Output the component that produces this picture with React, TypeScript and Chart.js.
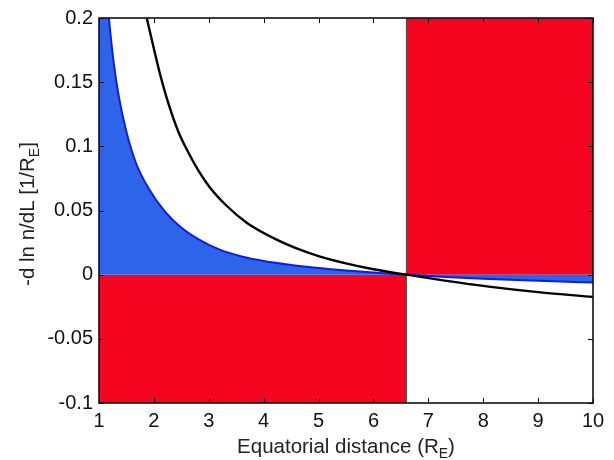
import React, { useEffect, useRef } from "react";
import { Chart, registerables } from "chart.js";

Chart.register(...registerables);

// ---- data ----
const blueX = [1.0, 1.1, 1.18, 1.27, 1.36, 1.49, 1.67, 1.91, 2.21, 2.52, 2.84, 3.2, 3.6, 4.0, 4.5, 5.0, 5.5, 6.0, 6.6, 7.3, 8.1, 9.0, 10.0];
const blueY = [0.29, 0.24, 0.2, 0.1645, 0.139, 0.113, 0.0874, 0.0668, 0.0488, 0.036, 0.027, 0.0195, 0.0142, 0.0107, 0.0076, 0.0052, 0.0033, 0.0017, 0.0, -0.0018, -0.0034, -0.0048, -0.0062];

const blackX = [1.87, 2.0, 2.12, 2.26, 2.44, 2.63, 2.82, 3.02, 3.33, 3.69, 4.18, 4.66, 5.0, 5.5, 6.0, 6.6, 7.3, 8.1, 9.0, 10.0];
const blackY = [0.2, 0.176, 0.155, 0.134, 0.112, 0.095, 0.0805, 0.068, 0.0535, 0.0405, 0.0285, 0.0195, 0.0145, 0.0088, 0.0042, 0.0, -0.0046, -0.0093, -0.0136, -0.0174];

// red regions
const redLowX = [1, 6.6];
const redLowY = [0, -0.1];
const redHighX = [6.6, 10];
const redHighY = [0.2, 0];
const boundaryX = 6.6;

const xTicks = [1, 2, 3, 4, 5, 6, 7, 8, 9, 10];
const xTickLabels = ["1", "2", "3", "4", "5", "6", "7", "8", "9", "10"];
const yTicks = [-0.1, -0.05, 0, 0.05, 0.1, 0.15, 0.2];
const yTickLabels = ["-0.1", "-0.05", "0", "0.05", "0.1", "0.15", "0.2"];

const xTitle = ["Equatorial distance (R", "E", ")"];
const yTitle = ["-d ln n/dL [1/R", "E", "]"];

const FONT = '"Liberation Sans", Arial, Helvetica, sans-serif';

const pts = (xs: number[], ys: number[]) => xs.map((x, i) => ({ x, y: ys[i] }));

const framePlugin = {
  id: "frameTicks",
  afterDatasetsDraw(chart: any) {
    const { ctx, chartArea: a, scales } = chart;
    const xs = scales.x;
    const ys = scales.y;
    ctx.save();
    ctx.strokeStyle = "#000";
    ctx.lineWidth = 1;
    const L = 5;
    ctx.beginPath();
    xTicks.forEach((v) => {
      const px = Math.round(xs.getPixelForValue(v)) + 0.5;
      ctx.moveTo(px, a.bottom);
      ctx.lineTo(px, a.bottom - L);
      ctx.moveTo(px, a.top);
      ctx.lineTo(px, a.top + L);
    });
    yTicks.forEach((v) => {
      const py = Math.round(ys.getPixelForValue(v)) + 0.5;
      ctx.moveTo(a.left, py);
      ctx.lineTo(a.left + L, py);
      ctx.moveTo(a.right, py);
      ctx.lineTo(a.right - L, py);
    });
    ctx.stroke();
    ctx.lineWidth = 1.6;
    ctx.strokeStyle = "#111";
    ctx.strokeRect(a.left, a.top, a.right - a.left, a.bottom - a.top);
    ctx.restore();
  },
  afterDraw(chart: any) {
    const { ctx, chartArea: a } = chart;
    const main = "20.5px " + FONT;
    const sub = "14px " + FONT;
    const drawParts = (parts: string[], cx: number, baseY: number) => {
      ctx.font = main;
      const w1 = ctx.measureText(parts[0]).width;
      const w3 = ctx.measureText(parts[2]).width;
      ctx.font = sub;
      const w2 = ctx.measureText(parts[1]).width;
      let x = cx - (w1 + w2 + w3) / 2;
      ctx.textAlign = "left";
      ctx.textBaseline = "alphabetic";
      ctx.fillStyle = "#222";
      ctx.font = main;
      ctx.fillText(parts[0], x, baseY);
      x += w1;
      ctx.font = sub;
      ctx.fillText(parts[1], x, baseY + 5);
      x += w2;
      ctx.font = main;
      ctx.fillText(parts[2], x, baseY);
    };
    ctx.save();
    drawParts(xTitle, (a.left + a.right) / 2, 453);
    ctx.restore();
    ctx.save();
    ctx.translate(34, 214);
    ctx.rotate(-Math.PI / 2);
    drawParts(yTitle, 0, 0);
    ctx.restore();
  },
};

export default function App() {
  const ref = useRef<HTMLCanvasElement | null>(null);
  useEffect(() => {
    if (!ref.current) return;
    const tickFont = { family: FONT, size: 20 };
    const chart = new Chart(ref.current, {
      type: "line",
      data: {
        datasets: [
          {
            label: "black",
            data: pts(blackX, blackY),
            borderColor: "#000",
            borderWidth: 2.4,
            pointRadius: 0,
            fill: false,
            cubicInterpolationMode: "monotone",
            order: 0,
          },
          {
            label: "blue",
            data: pts(blueX, blueY),
            borderColor: "#0a1ee6",
            backgroundColor: "#2e64ea",
            borderWidth: 2,
            pointRadius: 0,
            fill: "origin",
            cubicInterpolationMode: "monotone",
            order: 1,
          },
          {
            label: "boundary",
            data: [
              { x: boundaryX, y: yTicks[0] },
              { x: boundaryX, y: yTicks[yTicks.length - 1] },
            ],
            borderColor: "#444",
            borderWidth: 1,
            pointRadius: 0,
            fill: false,
            order: 2,
          },
          {
            label: "redLow",
            data: [
              { x: redLowX[0], y: redLowY[0] },
              { x: redLowX[1], y: redLowY[0] },
            ],
            borderWidth: 0,
            borderColor: "rgba(0,0,0,0)",
            backgroundColor: "#f5051f",
            pointRadius: 0,
            fill: { value: redLowY[1] },
            order: 3,
          },
          {
            label: "redHigh",
            data: [
              { x: redHighX[0], y: redHighY[0] },
              { x: redHighX[1], y: redHighY[0] },
            ],
            borderWidth: 0,
            borderColor: "rgba(0,0,0,0)",
            backgroundColor: "#f5051f",
            pointRadius: 0,
            fill: { value: redHighY[1] },
            order: 3,
          },
        ],
      },
      options: {
        animation: false,
        responsive: false,
        events: [],
        layout: { padding: { left: 0, top: 14, right: 21, bottom: 0 } },
        plugins: {
          legend: { display: false },
          tooltip: { enabled: false },
        },
        scales: {
          x: {
            type: "linear",
            min: 1,
            max: 10,
            afterBuildTicks: (s: any) => {
              s.ticks = xTicks.map((v) => ({ value: v }));
            },
            afterFit: (s: any) => {
              s.height = 57;
            },
            ticks: {
              font: tickFont,
              color: "#111",
              padding: 6,
              maxRotation: 0,
              autoSkip: false,
              callback: (v: any) => {
                const i = xTicks.indexOf(Number(v));
                return i >= 0 ? xTickLabels[i] : "";
              },
            },
            grid: { display: false, drawTicks: false, tickLength: 0 },
            border: { display: false },
          },
          y: {
            type: "linear",
            min: -0.1,
            max: 0.2,
            afterBuildTicks: (s: any) => {
              s.ticks = yTicks.map((v) => ({ value: v }));
            },
            afterFit: (s: any) => {
              s.width = 99;
            },
            ticks: {
              font: tickFont,
              color: "#111",
              padding: 6,
              autoSkip: false,
              callback: (v: any) => {
                const i = yTicks.findIndex((t) => Math.abs(t - Number(v)) < 1e-9);
                return i >= 0 ? yTickLabels[i] : "";
              },
            },
            grid: { display: false, drawTicks: false, tickLength: 0 },
            border: { display: false },
          },
        },
      },
      plugins: [framePlugin],
    } as any);
    return () => chart.destroy();
  }, []);
  return (
    <div style={{ position: "absolute", left: 0, top: 0, width: 614, height: 460, background: "#fff" }}>
      <canvas ref={ref} width={614} height={460} style={{ width: 614, height: 460, display: "block" }} />
    </div>
  );
}
